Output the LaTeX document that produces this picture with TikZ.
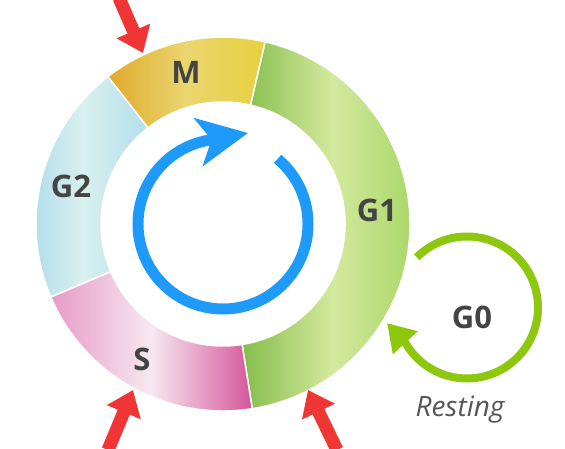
\documentclass[tikz,border=0pt]{standalone}
\usepackage{fontspec}
\setmainfont{Open Sans}
\usepackage{tikz}
\usepackage{xcolor}
\usetikzlibrary{positioning,arrows.meta}

\definecolor{labelgray}{HTML}{444444}
\definecolor{restgray}{HTML}{555555}
\definecolor{arrowred}{HTML}{F03535}
\definecolor{cycblue}{HTML}{1E9BFA}
\definecolor{restgreen}{HTML}{8DC80F}
\definecolor{gonedark}{HTML}{86BD4C}
\definecolor{gonelight}{HTML}{D4E99E}
\definecolor{gonemid}{HTML}{A3D562}
\definecolor{mdark}{HTML}{E0A92C}
\definecolor{mlight}{HTML}{EAD670}
\definecolor{myel}{HTML}{E8D03C}
\definecolor{gtwoleft}{HTML}{A6D7EC}
\definecolor{gtwomid}{HTML}{D9F0EF}
\definecolor{gtworight}{HTML}{B3DFEA}
\definecolor{sleft}{HTML}{E69BC6}
\definecolor{smid}{HTML}{F7E8F0}
\definecolor{sright}{HTML}{D5559A}

\newcommand{\ringseg}[2]{([shift={(ctr)}]#1:187) arc[start angle=#1,end angle=#2,radius=187] -- ([shift={(ctr)}]#2:122) arc[start angle=#2,end angle=#1,radius=122] -- cycle}

\begin{document}
\begin{tikzpicture}[x=1pt,y=1pt,
  phase/.style={font=\bfseries\fontsize{31}{31}\selectfont, text=labelgray},
  seg/.style={draw=white, line width=1.5pt},
  redarrow/.style={draw=arrowred, line width=13pt, -{Triangle[length=24pt,width=35pt]}}]
\tikzstyle{every node}+=[inner sep=0pt]
\useasboundingbox (0,0) rectangle (565,448);
\coordinate (ctr) at (223,224);
\coordinate (g0c) at (467,140.5);
\shadedraw[seg, left color=gonedark, right color=gonemid, middle color=gonelight] \ringseg{-81}{77};
\shadedraw[seg, left color=mdark, right color=myel, middle color=mlight] \ringseg{77}{128};
\shadedraw[seg, left color=gtwoleft, right color=gtworight, middle color=gtwomid] \ringseg{128}{203};
\shadedraw[seg, left color=sleft, right color=sright, middle color=smid] \ringseg{203}{279};
\node[phase] (m) at (186,376) {M};
\node[phase] (g2) at (71,262) {G2};
\node[phase] (g1) at (377,238) {G1};
\node[phase] (s) at (142,89) {S};
\node[phase] (g0) at (472,131) {G0};
\node[font=\itshape\fontsize{28}{28}\selectfont, text=restgray] (rest) at (460,38) {Resting};
\coordinate (cyctip) at (248,315);
\draw[line width=11pt, cycblue, -{Stealth[length=50pt,width=48pt,inset=13pt]}] ([shift={(ctr)}]50:85) arc[start angle=50,end angle=-260,radius=85] -- (cyctip);
\coordinate (g0tip) at (387,125);
\draw[line width=8pt, restgreen, -{Triangle[length=27pt,width=32pt]}] ([shift={(g0c)}]135:71) arc[start angle=135,end angle=-150,radius=71] -- (g0tip);
\coordinate (mtail) at (119,450);
\coordinate (mtip) at (143,395);
\coordinate (stail) at (108,-2);
\coordinate (stip) at (133,58);
\coordinate (gtail) at (337,-2);
\coordinate (gtip) at (308,58);
\draw[redarrow] (mtail) -- (mtip);
\draw[redarrow] (stail) -- (stip);
\draw[redarrow] (gtail) -- (gtip);
\end{tikzpicture}
\end{document}
